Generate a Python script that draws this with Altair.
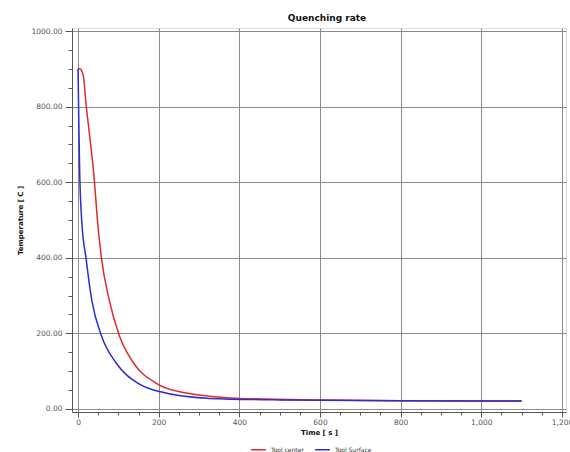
import altair as alt
import pandas as pd

# Tool center (red)
center_t = [0, 5, 10, 13, 20, 28, 40, 48, 58, 77, 102, 138, 194, 268, 400, 600, 800, 1000, 1100]
center_T = [900, 900, 892, 882, 805, 730, 610, 500, 400, 290, 195, 121, 68, 42, 28, 24, 22, 21, 21]

# Tool surface (blue)
surf_t = [0, 2, 4, 9, 20, 34, 58, 95, 149, 202, 326, 500, 800, 1100]
surf_T = [900, 750, 630, 500, 397, 288, 194, 121, 68, 46, 28, 24, 22, 21]

series_names = ["Tool center", "Tool Surface"]
series_colors = ["#e02a2a", "#2c2cd0"]

x_ticks = list(range(0, 1201, 50))
y_ticks = list(range(0, 1001, 50))

df = pd.concat([
    pd.DataFrame({"t": center_t, "T": center_T, "s": series_names[0], "o": 0}),
    pd.DataFrame({"t": surf_t, "T": surf_T, "s": series_names[1], "o": 1}),
])

major = "datum.value % 200 === 0"
font = "DejaVu Sans"

common_axis = dict(
    labelFont=font, labelFontSize=7.5, labelColor="#555",
    titleFont=font, titleFontSize=7, titleFontWeight="bold", titleColor="#111",
    domainColor="#555", tickColor="#555", labelOverlap=False,
    gridColor="#8a8a8a", gridWidth=1,
    gridOpacity={"condition": {"test": major, "value": 1}, "value": 0},
)

chart = alt.Chart(df).mark_line(strokeWidth=1.5, interpolate="monotone").encode(
    x=alt.X("t:Q", scale=alt.Scale(domain=[-15, 1210], nice=False, zero=False),
            axis=alt.Axis(values=x_ticks, title="Time [ s ]", titlePadding=3,
                          labelExpr="datum.value % 200 === 0 ? format(datum.value, ',d') : ''",
                          labelPadding=1,
                          tickSize={"condition": {"test": major, "value": 5}, "value": 3},
                          **common_axis)),
    y=alt.Y("T:Q", scale=alt.Scale(domain=[-8, 1008], nice=False, zero=False),
            axis=alt.Axis(values=y_ticks, title="Temperature [ C ]", titlePadding=7,
                          labelExpr="datum.value % 200 === 0 ? format(datum.value, '.2f') : ''",
                          labelPadding=3,
                          tickSize={"condition": {"test": major, "value": 7}, "value": 4},
                          **common_axis)),
    color=alt.Color("s:N", scale=alt.Scale(domain=series_names, range=series_colors),
                    legend=alt.Legend(title=None, orient="none", direction="horizontal",
                                      legendX=178, legendY=413, symbolType="stroke",
                                      symbolSize=220, symbolStrokeWidth=1.5,
                                      labelFont=font, labelFontSize=6, labelColor="#333",
                                      columnPadding=8, symbolOffset=0)),
    order="o:Q",
).properties(
    width=494, height=384,
    title=alt.Title("Quenching rate", font=font, fontSize=9, fontWeight="bold",
                    color="#111", anchor="middle", offset=4, dx=8),
    autosize=alt.AutoSizeParams(type="none"),
    padding={"left": 72, "top": 28, "right": 4, "bottom": 40},
).configure_view(stroke=None).configure(background="white")

chart.save("out.html", embed_options={"renderer": "svg", "actions": False})
